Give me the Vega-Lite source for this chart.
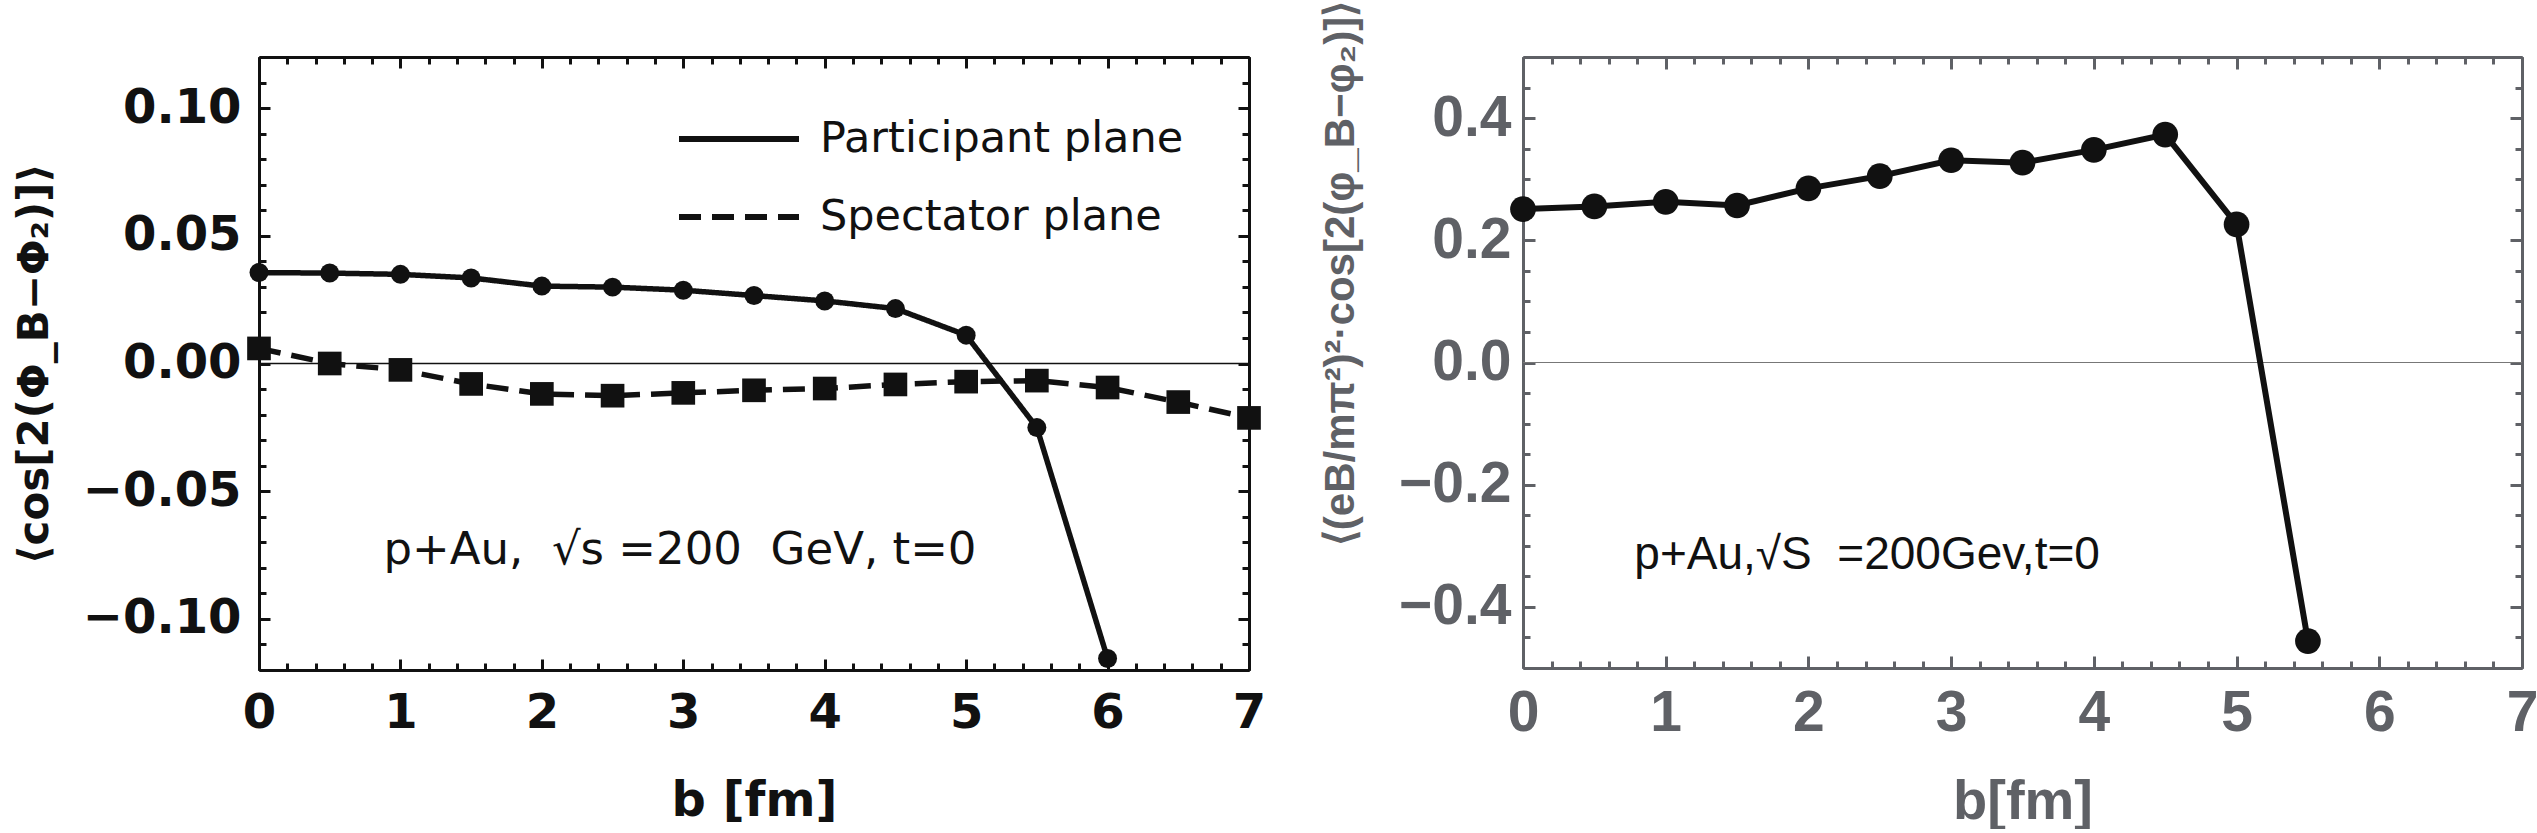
{
  "$schema": "https://vega.github.io/schema/vega-lite/v6.json",
  "padding": {"left": 13, "top": 0, "right": 0, "bottom": 0},
  "spacing": 53,
  "datasets": {
    "left": [
      {"b": 0, "v": 0.0356, "s": "Participant plane"},
      {"b": 0.5, "v": 0.0354, "s": "Participant plane"},
      {"b": 1, "v": 0.0349, "s": "Participant plane"},
      {"b": 1.5, "v": 0.0335, "s": "Participant plane"},
      {"b": 2, "v": 0.0303, "s": "Participant plane"},
      {"b": 2.5, "v": 0.0299, "s": "Participant plane"},
      {"b": 3, "v": 0.0287, "s": "Participant plane"},
      {"b": 3.5, "v": 0.0266, "s": "Participant plane"},
      {"b": 4, "v": 0.0245, "s": "Participant plane"},
      {"b": 4.5, "v": 0.0215, "s": "Participant plane"},
      {"b": 5, "v": 0.0111, "s": "Participant plane"},
      {"b": 5.5, "v": -0.0251, "s": "Participant plane"},
      {"b": 6, "v": -0.1155, "s": "Participant plane"},
      {"b": 0, "v": 0.0059, "s": "Spectator plane"},
      {"b": 0.5, "v": 0.0, "s": "Spectator plane"},
      {"b": 1, "v": -0.0025, "s": "Spectator plane"},
      {"b": 1.5, "v": -0.008, "s": "Spectator plane"},
      {"b": 2, "v": -0.0119, "s": "Spectator plane"},
      {"b": 2.5, "v": -0.0126, "s": "Spectator plane"},
      {"b": 3, "v": -0.0115, "s": "Spectator plane"},
      {"b": 3.5, "v": -0.0105, "s": "Spectator plane"},
      {"b": 4, "v": -0.0098, "s": "Spectator plane"},
      {"b": 4.5, "v": -0.0082, "s": "Spectator plane"},
      {"b": 5, "v": -0.0071, "s": "Spectator plane"},
      {"b": 5.5, "v": -0.0067, "s": "Spectator plane"},
      {"b": 6, "v": -0.0094, "s": "Spectator plane"},
      {"b": 6.5, "v": -0.0151, "s": "Spectator plane"},
      {"b": 7, "v": -0.0213, "s": "Spectator plane"}
    ],
    "right": [
      {"b": 0, "v": 0.251},
      {"b": 0.5, "v": 0.2555},
      {"b": 1, "v": 0.263},
      {"b": 1.5, "v": 0.257},
      {"b": 2, "v": 0.285},
      {"b": 2.5, "v": 0.305},
      {"b": 3, "v": 0.331},
      {"b": 3.5, "v": 0.327},
      {"b": 4, "v": 0.348},
      {"b": 4.5, "v": 0.373},
      {"b": 5, "v": 0.226},
      {"b": 5.5, "v": -0.456}
    ],
    "leftNote": [{"b": 0.88, "v": -0.0786, "label": "p+Au,\u00a0\u00a0√s\u00a0=200\u00a0\u00a0GeV,\u00a0t=0"}],
    "rightNote": [{"b": 0.78, "v": -0.338, "label": "p+Au,√S\u00a0\u00a0=200Gev,t=0"}],
    "zero": [{"v": 0, "b0": 0, "b1": 7}]
  },
  "hconcat": [
    {
      "width": 990,
      "height": 613,
      "layer": [
        {
          "data": {"name": "zero"},
          "mark": {"type": "rule", "color": "#111", "strokeWidth": 1.5},
          "encoding": {
            "x": {"field": "b0", "type": "quantitative", "scale": {"domain": [0, 7], "nice": false, "zero": false},
              "axis": {"orient": "top", "values": [0.2, 0.4, 0.6, 0.8, 1.2, 1.4, 1.6, 1.8, 2.2, 2.4, 2.6, 2.8, 3.2, 3.4, 3.6, 3.8, 4.2, 4.4, 4.6, 4.8, 5.2, 5.4, 5.6, 5.8, 6.2, 6.4, 6.6, 6.8], "tickSize": -7, "labels": false, "title": null}},
            "x2": {"field": "b1"},
            "y": {"field": "v", "type": "quantitative", "scale": {"domain": [-0.12, 0.12], "nice": false, "zero": false},
              "axis": {"orient": "right", "values": [-0.11, -0.09, -0.08, -0.07, -0.06, -0.04, -0.03, -0.02, -0.01, 0.01, 0.02, 0.03, 0.04, 0.06, 0.07, 0.08, 0.09, 0.11], "tickSize": -7, "labels": false, "title": null}}
          }
        },
        {
          "data": {"name": "leftNote"},
          "mark": {"type": "text", "align": "left", "baseline": "alphabetic", "font": "DejaVu Sans", "fontSize": 45, "color": "#111"},
          "encoding": {
            "x": {"field": "b", "type": "quantitative", "scale": {"domain": [0, 7], "nice": false, "zero": false},
              "axis": {"orient": "bottom", "values": [0.2, 0.4, 0.6, 0.8, 1.2, 1.4, 1.6, 1.8, 2.2, 2.4, 2.6, 2.8, 3.2, 3.4, 3.6, 3.8, 4.2, 4.4, 4.6, 4.8, 5.2, 5.4, 5.6, 5.8, 6.2, 6.4, 6.6, 6.8], "tickSize": -7, "labels": false, "title": null}},
            "y": {"field": "v", "type": "quantitative", "scale": {"domain": [-0.12, 0.12], "nice": false, "zero": false},
              "axis": {"orient": "left", "values": [-0.11, -0.09, -0.08, -0.07, -0.06, -0.04, -0.03, -0.02, -0.01, 0.01, 0.02, 0.03, 0.04, 0.06, 0.07, 0.08, 0.09, 0.11], "tickSize": -7, "labels": false, "title": null}},
            "text": {"field": "label"}
          }
        },
        {
          "data": {"name": "left"},
          "mark": {"type": "line", "color": "#111", "strokeWidth": 5.5},
          "encoding": {
            "x": {"field": "b", "type": "quantitative", "scale": {"domain": [0, 7], "nice": false, "zero": false},
              "axis": {"orient": "bottom", "values": [0, 1, 2, 3, 4, 5, 6, 7], "format": "d", "tickSize": -11, "labelPadding": 30, "title": "b [fm]", "titlePadding": 40}},
            "y": {"field": "v", "type": "quantitative", "scale": {"domain": [-0.12, 0.12], "nice": false, "zero": false},
              "axis": {"orient": "left", "values": [-0.1, -0.05, 0, 0.05, 0.1], "format": ".2f", "tickSize": -11, "labelPadding": 29, "title": "⟨cos[2(Φ_B−Φ₂)]⟩", "titleFontSize": 42, "titlePadding": 26}},
            "strokeDash": {"field": "s", "type": "nominal",
              "scale": {"domain": ["Participant plane", "Spectator plane"], "range": [[1, 0], [22, 11]]},
              "legend": {"orient": "none", "legendX": 457, "legendY": 59, "title": null, "symbolType": "M-3,0H3", "symbolSize": 1600, "symbolStrokeWidth": 6, "symbolStrokeColor": "#111", "symbolFillColor": "transparent", "symbolOpacity": 1, "labelFont": "DejaVu Sans", "labelFontWeight": "normal", "labelFontSize": 43, "labelColor": "#111", "labelOffset": 58, "rowPadding": 33, "labelLimit": 800}}
          }
        },
        {
          "data": {"name": "left"},
          "transform": [{"filter": "datum.s === 'Participant plane'"}],
          "mark": {"type": "point", "shape": "circle", "size": 360, "filled": true, "color": "#111", "opacity": 1},
          "encoding": {
            "x": {"field": "b", "type": "quantitative", "scale": {"domain": [0, 7], "nice": false, "zero": false},
              "axis": {"orient": "top", "values": [0, 1, 2, 3, 4, 5, 6, 7], "tickSize": -11, "labels": false, "title": null}},
            "y": {"field": "v", "type": "quantitative", "scale": {"domain": [-0.12, 0.12], "nice": false, "zero": false},
              "axis": {"orient": "right", "values": [-0.1, -0.05, 0, 0.05, 0.1], "tickSize": -11, "labels": false, "title": null}}
          }
        },
        {
          "data": {"name": "left"},
          "transform": [{"filter": "datum.s === 'Spectator plane'"}],
          "mark": {"type": "point", "shape": "square", "size": 560, "filled": true, "color": "#111", "opacity": 1},
          "encoding": {
            "x": {"field": "b", "type": "quantitative", "scale": {"domain": [0, 7], "nice": false, "zero": false}, "axis": null},
            "y": {"field": "v", "type": "quantitative", "scale": {"domain": [-0.12, 0.12], "nice": false, "zero": false}, "axis": null}
          }
        }
      ],
      "resolve": {"axis": {"x": "independent", "y": "independent"}}
    },
    {
      "width": 999,
      "height": 611,
      "layer": [
        {
          "data": {"name": "zero"},
          "mark": {"type": "rule", "color": "#777", "strokeWidth": 1.2},
          "encoding": {
            "x": {"field": "b0", "type": "quantitative", "scale": {"domain": [0, 7], "nice": false, "zero": false},
              "axis": {"orient": "top", "values": [0.2, 0.4, 0.6, 0.8, 1.2, 1.4, 1.6, 1.8, 2.2, 2.4, 2.6, 2.8, 3.2, 3.4, 3.6, 3.8, 4.2, 4.4, 4.6, 4.8, 5.2, 5.4, 5.6, 5.8, 6.2, 6.4, 6.6, 6.8], "tickSize": -7, "labels": false, "title": null, "domainColor": "#5f6166", "tickColor": "#5f6166"}},
            "x2": {"field": "b1"},
            "y": {"field": "v", "type": "quantitative", "scale": {"domain": [-0.5, 0.5], "nice": false, "zero": false},
              "axis": {"orient": "right", "values": [-0.45, -0.35, -0.3, -0.25, -0.15, -0.1, -0.05, 0.05, 0.1, 0.15, 0.25, 0.3, 0.35, 0.45], "tickSize": -7, "labels": false, "title": null, "domainColor": "#5f6166", "tickColor": "#5f6166"}}
          }
        },
        {
          "data": {"name": "rightNote"},
          "mark": {"type": "text", "align": "left", "baseline": "alphabetic", "font": "Liberation Sans", "fontSize": 46, "color": "#111"},
          "encoding": {
            "x": {"field": "b", "type": "quantitative", "scale": {"domain": [0, 7], "nice": false, "zero": false},
              "axis": {"orient": "bottom", "values": [0.2, 0.4, 0.6, 0.8, 1.2, 1.4, 1.6, 1.8, 2.2, 2.4, 2.6, 2.8, 3.2, 3.4, 3.6, 3.8, 4.2, 4.4, 4.6, 4.8, 5.2, 5.4, 5.6, 5.8, 6.2, 6.4, 6.6, 6.8], "tickSize": -7, "labels": false, "title": null, "domainColor": "#5f6166", "tickColor": "#5f6166"}},
            "y": {"field": "v", "type": "quantitative", "scale": {"domain": [-0.5, 0.5], "nice": false, "zero": false},
              "axis": {"orient": "left", "values": [-0.45, -0.35, -0.3, -0.25, -0.15, -0.1, -0.05, 0.05, 0.1, 0.15, 0.25, 0.3, 0.35, 0.45], "tickSize": -7, "labels": false, "title": null, "domainColor": "#5f6166", "tickColor": "#5f6166"}},
            "text": {"field": "label"}
          }
        },
        {
          "data": {"name": "right"},
          "mark": {"type": "line", "color": "#111", "strokeWidth": 6},
          "encoding": {
            "x": {"field": "b", "type": "quantitative", "scale": {"domain": [0, 7], "nice": false, "zero": false},
              "axis": {"orient": "bottom", "values": [0, 1, 2, 3, 4, 5, 6, 7], "format": "d", "tickSize": -12, "labelPadding": 29, "title": "b[fm]", "titlePadding": 33,
                "labelFont": "Liberation Sans", "labelFontSize": 57, "labelColor": "#5f6166", "titleFont": "Liberation Sans", "titleFontSize": 56, "titleColor": "#5f6166", "domainColor": "#5f6166", "tickColor": "#5f6166"}},
            "y": {"field": "v", "type": "quantitative", "scale": {"domain": [-0.5, 0.5], "nice": false, "zero": false},
              "axis": {"orient": "left", "values": [-0.4, -0.2, 0, 0.2, 0.4], "format": ".1f", "tickSize": -12, "labelPadding": 24, "title": "⟨(eB/mπ²)²·cos[2(φ_B−φ₂)]⟩", "titlePadding": 36, "titleY": 216,
                "labelFont": "Liberation Sans", "labelFontSize": 57, "labelColor": "#5f6166", "titleFont": "Liberation Sans", "titleFontSize": 42, "titleColor": "#5f6166", "domainColor": "#5f6166", "tickColor": "#5f6166"}}
          }
        },
        {
          "data": {"name": "right"},
          "mark": {"type": "point", "filled": true, "color": "#111", "opacity": 1, "size": 660},
          "encoding": {
            "x": {"field": "b", "type": "quantitative", "scale": {"domain": [0, 7], "nice": false, "zero": false},
              "axis": {"orient": "top", "values": [0, 1, 2, 3, 4, 5, 6, 7], "tickSize": -12, "labels": false, "title": null, "domainColor": "#5f6166", "tickColor": "#5f6166"}},
            "y": {"field": "v", "type": "quantitative", "scale": {"domain": [-0.5, 0.5], "nice": false, "zero": false},
              "axis": {"orient": "right", "values": [-0.4, -0.2, 0, 0.2, 0.4], "tickSize": -12, "labels": false, "title": null, "domainColor": "#5f6166", "tickColor": "#5f6166"}}
          }
        }
      ],
      "resolve": {"axis": {"x": "independent", "y": "independent"}}
    }
  ],
  "resolve": {"scale": {"strokeDash": "independent"}, "legend": {"strokeDash": "independent"}},
  "config": {
    "view": {"stroke": null},
    "axis": {
      "grid": false,
      "domainColor": "#111",
      "domainWidth": 3,
      "tickColor": "#111",
      "tickWidth": 3,
      "labelFont": "DejaVu Sans",
      "labelFontWeight": "bold",
      "labelFontSize": 48,
      "labelColor": "#111",
      "labelFlush": false,
      "labelOverlap": false,
      "titleFont": "DejaVu Sans",
      "titleFontWeight": "bold",
      "titleFontSize": 48,
      "titleColor": "#111"
    }
  }
}
